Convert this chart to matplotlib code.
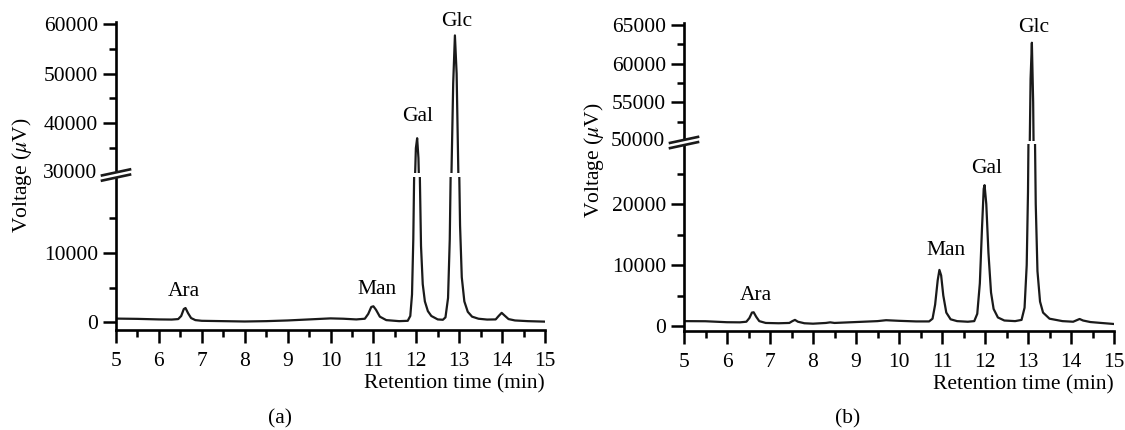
import matplotlib
matplotlib.use("Agg")
import matplotlib.pyplot as plt
from matplotlib.lines import Line2D
from matplotlib.patches import Polygon

plt.rcParams['font.family'] = ['Liberation Serif', 'DejaVu Serif']
plt.rcParams['mathtext.fontset'] = 'stix'

# ---------------- data (a) ----------------
time_a = [5.0, 5.5, 6.0, 6.3, 6.45, 6.52, 6.58, 6.62, 6.68, 6.75, 6.85, 7.0, 7.5, 8.0,
          8.5, 9.0, 9.5, 10.0, 10.3, 10.6, 10.8, 10.88, 10.95, 11.0, 11.06, 11.15, 11.3,
          11.6, 11.8, 11.86, 11.9, 11.93, 11.96, 11.99, 12.02, 12.05, 12.08, 12.11, 12.15,
          12.2, 12.27, 12.35, 12.5, 12.62, 12.68, 12.74, 12.78, 12.82, 12.86, 12.9, 12.94,
          12.98, 13.02, 13.06, 13.12, 13.2, 13.3, 13.45, 13.65, 13.85, 13.92, 13.99,
          14.06, 14.15, 14.3, 14.6, 15.0]
volt_a = [520, 480, 400, 380, 450, 900, 1900, 2050, 1300, 600, 300, 200, 150, 100,
          150, 250, 400, 550, 500, 400, 500, 1200, 2200, 2300, 1800, 800, 300,
          150, 200, 900, 4000, 12000, 26000, 35000, 37000, 33000, 22000, 11000, 5500,
          3000, 1600, 900, 400, 350, 700, 3500, 12000, 30000, 48000, 57700, 50000,
          30000, 14000, 6500, 3000, 1500, 800, 500, 380, 400, 900, 1350,
          950, 450, 250, 150, 80]

# ---------------- data (b) ----------------
time_b = [5.0, 5.5, 6.0, 6.3, 6.45, 6.52, 6.58, 6.62, 6.68, 6.75, 6.9, 7.2, 7.45, 7.52,
          7.58, 7.65, 7.8, 8.0, 8.3, 8.4, 8.5, 9.0, 9.5, 9.7, 10.0, 10.4, 10.7, 10.78,
          10.84, 10.9, 10.94, 10.98, 11.03, 11.1, 11.2, 11.35, 11.6, 11.75, 11.82, 11.88,
          11.93, 11.97, 11.99, 12.03, 12.08, 12.14, 12.2, 12.3, 12.45, 12.7, 12.85, 12.92,
          12.97, 13.0, 13.03, 13.06, 13.09, 13.12, 13.15, 13.18, 13.22, 13.28, 13.35,
          13.5, 13.8, 14.05, 14.15, 14.2, 14.28, 14.45, 14.7, 15.0]
volt_b = [800, 780, 620, 600, 700, 1300, 2200, 2250, 1500, 800, 500, 450, 500, 800,
          1000, 700, 450, 380, 500, 600, 500, 650, 800, 950, 850, 750, 750, 1200,
          3500, 7500, 9200, 8300, 5000, 2200, 1100, 800, 700, 800, 2000, 7000,
          16000, 22500, 23100, 20000, 12000, 5500, 2800, 1400, 900, 800, 1000, 3000,
          10000, 22000, 45000, 58000, 62700, 55000, 38000, 20000, 9000, 4000, 2200,
          1200, 800, 700, 1000, 1150, 900, 650, 500, 330]

labels = ['Ara', 'Man', 'Gal', 'Glc']
label_time_a = [6.57, 11.09, 12.02, 12.94]
label_volt_a = [4500, 4790, 41400, 60500]
label_time_b = [6.67, 11.09, 12.04, 13.14]
label_volt_b = [4970, 12460, 25900, 64700]

x_ticks = list(range(5, 16))
W, H = 1125, 430
FS = 15.5

fig = plt.figure(figsize=(W / 100, H / 100), dpi=100)


def frac(x0, x1, ytop, ybot):
    return [x0 / W, 1 - ybot / H, (x1 - x0) / W, (ybot - ytop) / H]


def style(ax):
    for s in ['top', 'right']:
        ax.spines[s].set_visible(False)
    for s in ['left', 'bottom']:
        ax.spines[s].set_linewidth(1.9)
    ax.tick_params(which='major', direction='out', length=9.5, width=1.8,
                   labelsize=FS, pad=3.5)
    ax.tick_params(which='minor', direction='out', length=5, width=1.8)
    ax.tick_params(axis='x', which='major', pad=6)
    ax.set_facecolor('none')


def panel(x0, x1, lo_rect, hi_rect, lo_lim, hi_lim, lo_major, lo_minor,
          hi_major, hi_minor, break_label, t, v, ltimes, lvolts):
    axl = fig.add_axes(frac(x0, x1, *lo_rect))
    axh = fig.add_axes(frac(x0, x1, *hi_rect))
    for ax in (axl, axh):
        style(ax)
        ax.set_xlim(5, 15)
        ax.plot(t, v, color='#1a1a1a', lw=1.6, solid_joinstyle='round')
    axl.set_ylim(*lo_lim)
    axh.set_ylim(*hi_lim)
    axl.set_xticks(x_ticks)
    axl.set_xticks([x + 0.5 for x in x_ticks[:-1]], minor=True)
    axl.set_yticks(lo_major)
    axl.set_yticks(lo_minor, minor=True)
    axh.set_yticks(hi_major)
    axh.set_yticks(hi_minor, minor=True)
    axh.spines['bottom'].set_visible(False)
    axh.set_xticks([])
    axh.tick_params(axis='x', which='both', length=0)
    # peak labels
    for name, tt, vv in zip(labels, ltimes, lvolts):
        ax = axl if vv < lo_lim[1] else axh
        ax.text(tt, vv, name, ha='center', va='center', fontsize=FS, clip_on=False)
    # break label
    axh.text(-0.044, 0, break_label, transform=axh.transAxes, ha='right', va='center',
             fontsize=FS)
    axl.set_xlabel('Retention time (min)', fontsize=FS, ha='right', x=1.0, labelpad=3)
    # break marks in pixel space
    yb = (lo_rect[0] + hi_rect[1]) / 2
    xa = x0

    def P(px, py):
        return (px / W, 1 - py / H)
    poly = Polygon([P(xa - 14, yb + 0.5), P(xa + 14, yb - 5.5), P(xa + 14, yb - 0.5),
                    P(xa - 14, yb + 5.5)], closed=True, transform=fig.transFigure,
                   facecolor='white', edgecolor='none', zorder=10)
    fig.add_artist(poly)
    for dy in (-2.6, 2.6):
        fig.add_artist(Line2D([(xa - 14) / W, (xa + 14) / W],
                              [1 - (yb + 3 + dy) / H, 1 - (yb - 3 + dy) / H],
                              color='#1a1a1a', lw=1.9, zorder=11))
    return axl, axh


# panel (a)
panel(116, 545, (177, 330), (22, 173), (-1130, 21000), (30000, 60400),
      [0, 10000], [5000, 15000], [40000, 50000, 60000], [35000, 45000, 55000],
      '30000', time_a, volt_a, label_time_a, label_volt_a)
# panel (b)
panel(684, 1114, (144, 331), (23, 141), (-820, 29850), (50000, 65250),
      [0, 10000, 20000], [5000, 15000, 25000], [55000, 60000, 65000],
      [52500, 57500, 62500], '50000', time_b, volt_b, label_time_b, label_volt_b)

fig.text(22 / W, 1 - 175 / H, 'Voltage ($\\mu$V)', rotation=90, ha='center',
         va='center', fontsize=FS)
fig.text(594 / W, 1 - 160 / H, 'Voltage ($\\mu$V)', rotation=90, ha='center',
         va='center', fontsize=FS)
fig.text(280 / W, 1 - 419 / H, '(a)', ha='center', va='center', fontsize=FS)
fig.text(848 / W, 1 - 419 / H, '(b)', ha='center', va='center', fontsize=FS)

fig.savefig('out.png', dpi=100)
